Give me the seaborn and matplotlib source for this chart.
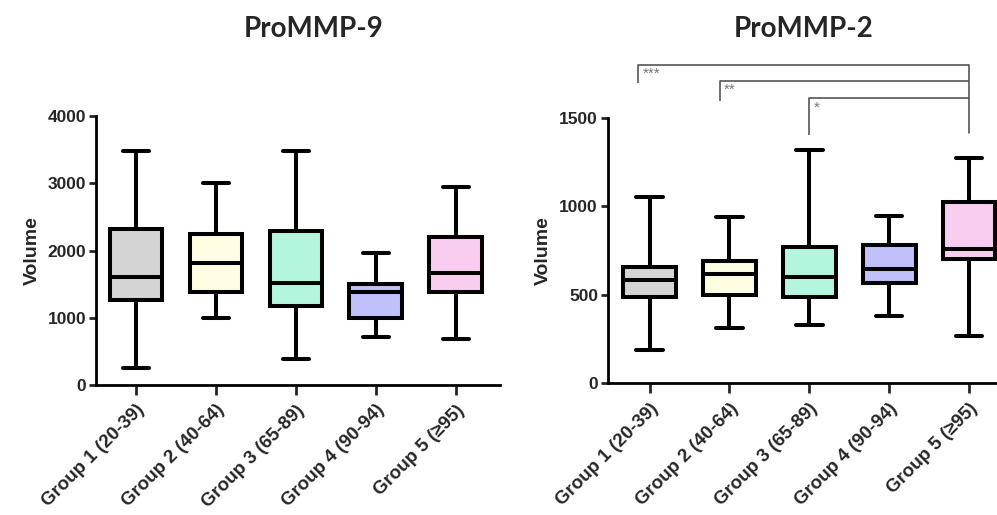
import matplotlib
matplotlib.use("Agg")
import matplotlib.pyplot as plt
import pandas as pd
import seaborn as sns

groups = ["Group 1 (20-39)", "Group 2 (40-64)", "Group 3 (65-89)",
          "Group 4 (90-94)", "Group 5 (\u226595)"]
box_colors = ["#d4d4d4", "#fefde2", "#b3f5dd", "#c0c0fb", "#f9cdef"]

# min, q1, median, q3, max
mmp9 = [
    [255, 1265, 1610, 2315, 3485],
    [990, 1390, 1810, 2245, 3010],
    [380, 1175, 1520, 2285, 3485],
    [720, 990, 1390, 1500, 1970],
    [680, 1390, 1670, 2205, 2940],
]
mmp2 = [
    [190, 486, 583, 658, 1054],
    [314, 499, 617, 691, 937],
    [329, 486, 602, 772, 1318],
    [382, 565, 644, 781, 947],
    [269, 700, 757, 1026, 1271],
]

# significance brackets on ProMMP-2 (left x, right x, top y, left drop y)
br_left = [-0.14, 0.88, 2.0]
br_right = [4.0, 4.0, 4.0]
br_top = [1800, 1710, 1610]
br_drop = [1695, 1595, 1405]
br_right_drop = 1413
br_labels = ["***", "**", "*"]


def long_form(values):
    rows = []
    for g, vals in zip(groups, values):
        for v in vals:
            rows.append({"group": g, "value": v})
    return pd.DataFrame(rows)


sns.set_style("ticks")
plt.rcParams["font.family"] = ["Liberation Sans", "DejaVu Sans"]

fig = plt.figure(figsize=(9.97, 5.15), dpi=100)
ax1 = fig.add_axes([0.0963, 0.2524, 0.405, 0.5223])
ax2 = fig.add_axes([0.6095, 0.2557, 0.3905, 0.5157])

for ax, vals, ymax, yticks in [(ax1, mmp9, 4000, [0, 1000, 2000, 3000, 4000]),
                               (ax2, mmp2, 1500, [0, 500, 1000, 1500])]:
    df = long_form(vals)
    sns.boxplot(data=df, x="group", y="value", hue="group", palette=box_colors,
                order=groups, hue_order=groups, whis=(0, 100), width=0.66,
                linecolor="black", linewidth=2.9, saturation=1, legend=False,
                ax=ax)
    ax.set_ylim(0, ymax)
    ax.set_yticks(yticks)
    ax.set_xlabel("")
    ax.set_ylabel("Volume", fontsize=14, fontweight="bold", labelpad=5)
    for s in ["top", "right"]:
        ax.spines[s].set_visible(False)
    for s in ["left", "bottom"]:
        ax.spines[s].set_linewidth(2.0)
        ax.spines[s].set_color("black")
    ax.tick_params(axis="y", length=5, width=2.0, labelsize=12.5, pad=2)
    ax.tick_params(axis="x", length=7, width=2.0, labelsize=13.5, pad=5)
    for lab in ax.get_yticklabels():
        lab.set_fontweight("bold")
    ax.set_xticks(range(len(groups)))
    ax.set_xticklabels(groups, rotation=45, ha="right", rotation_mode="anchor",
                       fontweight="bold")

ax1.set_xlim(-0.5, 4.55)
ax2.set_xlim(-0.525, 4.35)

for xl, xr, yt, yd, lab in zip(br_left, br_right, br_top, br_drop, br_labels):
    ax2.plot([xl, xl, xr], [yd, yt, yt], color="#555555", lw=1.2,
             clip_on=False, solid_capstyle="butt")
    ax2.text(xl + 0.05, yt - 12, lab, color="#777777", fontsize=11,
             ha="left", va="top", clip_on=False)
ax2.plot([br_right[0], br_right[0]], [br_top[0], br_right_drop],
         color="#555555", lw=1.2, clip_on=False)

fig.text(0.315, 0.944, "ProMMP-9", family="Lato", fontweight="bold",
         fontsize=20, ha="center", va="center")
fig.text(0.806, 0.944, "ProMMP-2", family="Lato", fontweight="bold",
         fontsize=20, ha="center", va="center")

fig.savefig("out.png", dpi=100)
